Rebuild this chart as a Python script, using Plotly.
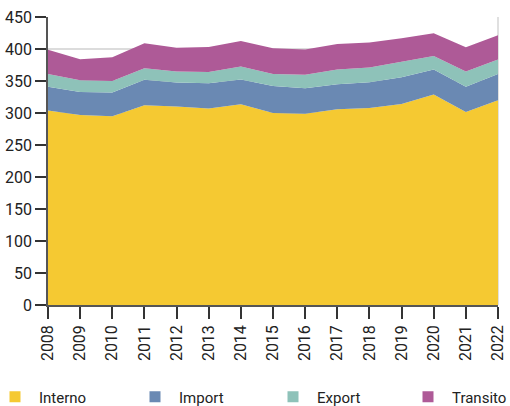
import plotly.graph_objects as go

years = list(range(2008, 2023))
interno = [304, 297, 295, 312, 310, 307, 313.5, 300, 299, 306, 308, 314, 329, 301.5, 320]
import_ = [37, 36, 37, 40, 37.5, 39.5, 39, 42, 39.6, 39, 40, 42, 39, 39.5, 41]
export = [20, 18, 18, 18, 17.5, 17.5, 20, 19, 21, 23, 23, 24, 21, 24, 22.5]
transito = [38, 33, 37, 39, 37, 39, 40, 40, 39.5, 40, 39, 36.7, 35.5, 37.7, 38]

names = ["Interno", "Import", "Export", "Transito"]
series = [interno, import_, export, transito]
colors = ["#F5C932", "#6A89B3", "#8EC2B9", "#AE5A97"]
legend_ids = ["legend", "legend2", "legend3", "legend4"]
legend_x_px = [15, 155, 293, 428]

FONT = "Roboto, sans-serif"
W, H = 510, 406
ML, MR, MT, MB = 48, 12, 17, 101
PW, PH = W - ML - MR, H - MT - MB

fig = go.Figure()
for n, s, c in zip(names, series, colors):
    fig.add_trace(go.Scatter(x=years, y=s, name=n, stackgroup="one", mode="none",
                             fillcolor=c, showlegend=False))
for n, c, lid in zip(names, colors, legend_ids):
    fig.add_trace(go.Scatter(x=[None], y=[None], name=n, mode="markers", legend=lid,
                             showlegend=True,
                             marker=dict(symbol="square", size=11, color=c)))

fig.add_shape(type="line", xref="paper", yref="y", x0=1, x1=1, y0=0, y1=450,
              line=dict(color="#d6d6d6", width=1.5), layer="below")

legends = {}
for lid, px in zip(legend_ids, legend_x_px):
    legends[lid] = dict(xref="paper", yref="paper",
                        x=(px - 24 - ML) / PW, xanchor="left",
                        y=-(397 - (H - MB)) / PH, yanchor="middle",
                        itemwidth=38, font=dict(family=FONT, size=15, color="#222222"),
                        bgcolor="rgba(0,0,0,0)")

fig.update_layout(
    width=W, height=H, showlegend=True,
    margin=dict(l=ML, r=MR, t=MT, b=MB, autoexpand=False),
    paper_bgcolor="white", plot_bgcolor="white",
    font=dict(family=FONT, size=16, color="#222222"),
    xaxis=dict(range=[2008, 2022], tickmode="array", tickvals=years,
               ticktext=[str(y) for y in years], tickangle=-90, automargin=False,
               showgrid=False, showline=True, linecolor="#555555", linewidth=1.5,
               ticks="outside", ticklen=12, tickcolor="#333333", tickwidth=1.5),
    yaxis=dict(range=[0, 450], tickvals=list(range(0, 451, 50)), automargin=False,
               showgrid=True, gridcolor="#dcdcdc", gridwidth=1.5,
               showline=True, linecolor="#555555", linewidth=1.5,
               ticks="outside", ticklen=11, tickcolor="#333333", tickwidth=1.5,
               zeroline=False),
    **legends,
)

fig.write_html("out.html", config={"displayModeBar": False},
               post_script="document.body.style.margin='0';")
